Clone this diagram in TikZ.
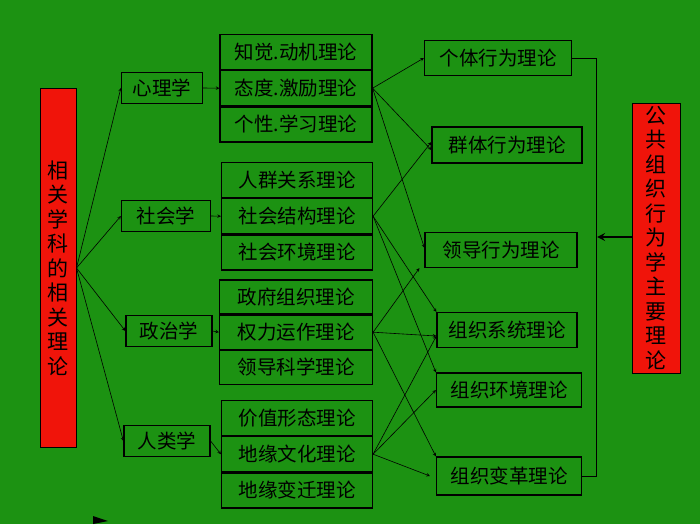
\documentclass[tikz,border=0pt]{standalone}
\usepackage{fontspec}
\newfontfamily\cjk{Noto Sans CJK SC}
\usetikzlibrary{positioning}
\definecolor{bggreen}{RGB}{28,146,18}
\definecolor{boxred}{RGB}{240,20,10}

\tikzset{
  frame/.style={draw=black,line width=1.2pt,minimum height=31pt,inner sep=0pt,font=\cjk\fontsize{19.5pt}{20pt}\selectfont},
  redbar/.style={draw=black,fill=boxred,line width=1pt,font=\cjk\fontsize{21pt}{24.5pt}\selectfont,align=center,inner sep=0pt},
  link/.style={->,>=stealth,line width=0.6pt}
}

\begin{document}
\begin{tikzpicture}[x=1pt,y=-1pt]

\fill[bggreen] (0,0) rectangle (700,524);
\useasboundingbox (0,0) rectangle (700,524);

\node[redbar,minimum width=36pt,minimum height=359pt] (rel) at (58,268) {相\\关\\学\\科\\的\\相\\关\\理\\论};
\node[redbar,minimum width=48pt,minimum height=270pt] (pub) at (656,238) {公\\共\\组\\织\\行\\为\\学\\主\\要\\理\\论};

\node[frame,minimum width=81pt] (psy) at (162,88) {心理学};
\node[frame,minimum width=89pt] (soc) at (166,216) {社会学};
\node[frame,minimum width=86pt] (pol) at (169,331) {政治学};
\node[frame,minimum width=86pt] (ant) at (167,441) {人类学};

\node[frame,minimum width=152pt,minimum height=35pt] (g1a) at (296,52) {知觉.动机理论};
\node[frame,minimum width=152pt,minimum height=35pt,below=0pt of g1a] (g1b) {态度.激励理论};
\node[frame,minimum width=152pt,minimum height=35pt,below=0pt of g1b] (g1c) {个性.学习理论};
\node[frame,minimum width=151pt,minimum height=35pt] (g2a) at (297,180) {人群关系理论};
\node[frame,minimum width=151pt,minimum height=35pt,below=0pt of g2a] (g2b) {社会结构理论};
\node[frame,minimum width=151pt,minimum height=35pt,below=0pt of g2b] (g2c) {社会环境理论};
\node[frame,minimum width=153pt,minimum height=34pt] (g3a) at (296,297) {政府组织理论};
\node[frame,minimum width=153pt,minimum height=34pt,below=0pt of g3a] (g3b) {权力运作理论};
\node[frame,minimum width=153pt,minimum height=34pt,below=0pt of g3b] (g3c) {领导科学理论};
\node[frame,minimum width=151pt,minimum height=35pt] (g4a) at (297,418) {价值形态理论};
\node[frame,minimum width=151pt,minimum height=35pt,below=0pt of g4a] (g4b) {地缘文化理论};
\node[frame,minimum width=151pt,minimum height=35pt,below=0pt of g4b] (g4c) {地缘变迁理论};

\node[frame,minimum width=147pt,minimum height=35pt] (ind) at (498,58) {个体行为理论};
\node[frame,minimum width=150pt,minimum height=36pt] (grp) at (507,145) {群体行为理论};
\node[frame,minimum width=152pt,minimum height=35pt] (led) at (501,250) {领导行为理论};
\node[frame,minimum width=140pt,minimum height=35pt] (sys) at (507,330) {组织系统理论};
\node[frame,minimum width=145pt,minimum height=34pt] (env) at (509,390) {组织环境理论};
\node[frame,minimum width=145pt,minimum height=38pt] (chg) at (509,476) {组织变革理论};

\coordinate (fan) at (rel.east);
\foreach \t in {psy,soc,pol,ant}
  \draw[link] (fan) -- (\t.west);
\draw[link] (psy.east) -- (g1b.west);
\draw[link] (soc.east) -- (g2b.west);
\draw[link] (pol.east) -- (g3b.west);
\draw[link] (ant.east) -- (g4b.west);

\draw[link] (g1b.east) -- (ind.west);
\draw[link] (g1b.east) -- ([yshift=-5pt]grp.west);
\draw[link] (g1b.east) -- ([yshift=-16pt]led.north west);
\draw[link] (g2b.east) -- ([yshift=3pt]grp.west);
\draw[link] (g2b.east) -- (sys.north west);
\draw[link] (g2b.east) -- (env.north west);
\draw[link] (g3b.east) -- ([xshift=-5pt]led.south west);
\draw[link] (g3b.east) -- ([yshift=-6pt]sys.west);
\draw[link] (g3b.east) -- (chg.north west);
\draw[link] (g4b.east) -- ([yshift=-6pt]sys.west);
\draw[link] (g4b.east) -- (env.west);
\draw[link] (g4b.east) -- ([xshift=-6pt]chg.west);

\coordinate (brk) at (596,58);
\draw[line width=0.6pt] (ind.east) -- (brk) |- (chg.east);
\draw[->,>=stealth,line width=2.5pt] (pub.west |- 0,237) -- (597,237);

\fill[black] (93,516) -- (108,521) -- (93,524) -- cycle;

\end{tikzpicture}
\end{document}
